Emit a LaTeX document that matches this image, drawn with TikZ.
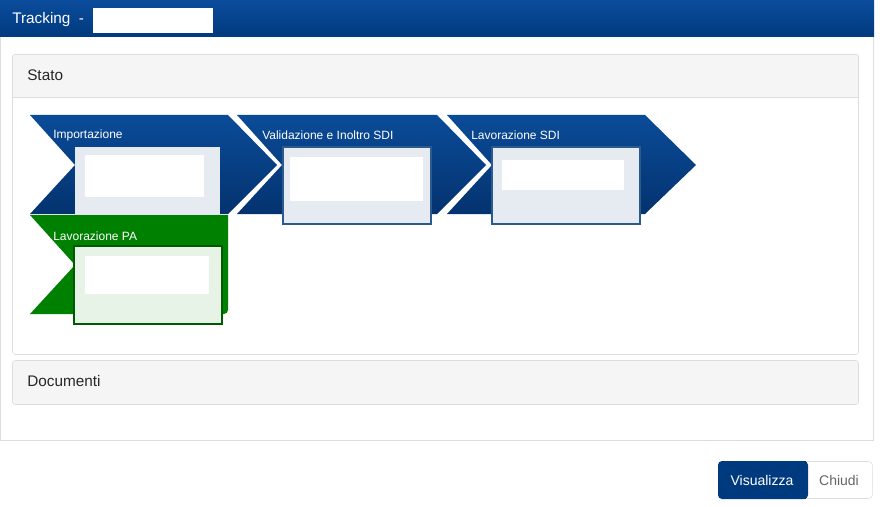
\documentclass[tikz,border=0pt]{standalone}
\usepackage{fontspec}
\setmainfont{Liberation Sans}
\definecolor{hblue}{HTML}{0B4C9C}
\definecolor{hblue2}{HTML}{003A7E}
\definecolor{cblue}{HTML}{0A4B98}
\definecolor{cblue2}{HTML}{04336F}
\definecolor{gr}{HTML}{008000}
\definecolor{boxb}{HTML}{E6EBF2}
\definecolor{boxg}{HTML}{E8F3E8}
\definecolor{bord}{HTML}{DDDDDD}
\definecolor{panel}{HTML}{F5F5F5}
\definecolor{bbord}{HTML}{2B5A8E}
\tikzset{
 lbl/.style={text=white,font=\fontsize{9}{10}\selectfont,anchor=west,inner sep=0},
 ttl/.style={text=black!85,font=\fontsize{11.5}{13}\selectfont,anchor=west,inner sep=0},
 chev/.style={top color=cblue,bottom color=cblue2,draw=none},
 sbox/.style={fill=boxb,draw=bbord,line width=1.2pt},
}
\begin{document}
\begin{tikzpicture}[x=0.75pt,y=-0.75pt]
\useasboundingbox (0,0) rectangle (880,506);
\fill[white] (0,0) rectangle (880,506);
% header
\shade[top color=hblue,bottom color=hblue2] (0,0) rectangle (874,37);
\node[lbl,font=\fontsize{11.5}{13}\selectfont] (tt) at (12,20) {Tracking\ \ -};
\fill[white] (93,8) rectangle (213,33);
% outer panel
\draw[bord] (0.5,37) -- (0.5,440.5) -- (873.5,440.5) -- (873.5,37);
% Stato panel
\draw[bord,fill=white,rounded corners=2pt] (12.5,54.5) rectangle (858.5,354.5);
\draw[bord,fill=panel] (12.5,97.5) -- (12.5,56) [rounded corners=2pt]-- (12.5,54.5) -- (858.5,54.5) [sharp corners]-- (858.5,97.5) -- cycle;
\node[ttl] (stato) at (27,75) {Stato};
% chevrons
\shade[chev] (30,115) -- (228,115) -- (277,165) -- (228,214) -- (30,214) -- (75,165) -- cycle;
\shade[chev] (237,115) -- (437,115) -- (486,165) -- (437,214) -- (237,214) -- (282,165) -- cycle;
\shade[chev] (447,115) -- (645,115) -- (696,165) -- (645,214) -- (447,214) -- (492,165) -- cycle;
\fill[boxb] (75,147) rectangle (220,214);
\fill[white] (85,155) rectangle (204,197);
\draw[sbox] (283,147) rectangle (431,224);
\fill[white] (290,157) rectangle (423,201);
\draw[sbox] (492,147) rectangle (640,224);
\fill[white] (502,160) rectangle (624,190);
\node[lbl] (l1) at (53,135) {Importazione};
\node[lbl] (l2) at (262,135) {Validazione e Inoltro SDI};
\node[lbl] (l3) at (471,135) {Lavorazione SDI};
% green
\fill[gr] (30,215) -- (228,215) [rounded corners=3pt]-- (228,314) [sharp corners]-- (30,314) -- (75,265) -- cycle;
\draw[fill=boxg,draw=gr!70!black,line width=1.2pt] (74,246) rectangle (222,324);
\fill[white] (85,256) rectangle (209,294);
\node[lbl] (l4) at (53,236) {Lavorazione PA};
% Documenti
\draw[bord,fill=panel,rounded corners=2pt] (12.5,360.5) rectangle (858.5,404.5);
\node[ttl] (doc) at (27,381) {Documenti};
% buttons
\draw[bord,fill=white,rounded corners=3pt] (790,461.5) rectangle (872.5,498.5);
\node[text=black!60,font=\fontsize{10.5}{12}\selectfont] (ch) at (839,480) {Chiudi};
\fill[hblue2,rounded corners=3pt] (718,461) rectangle (808,499);
\fill[hblue2] (795,461) rectangle (806,499);
\node[text=white,font=\fontsize{10.5}{12}\selectfont] (vi) at (762,480) {Visualizza};
\end{tikzpicture}
\end{document}
